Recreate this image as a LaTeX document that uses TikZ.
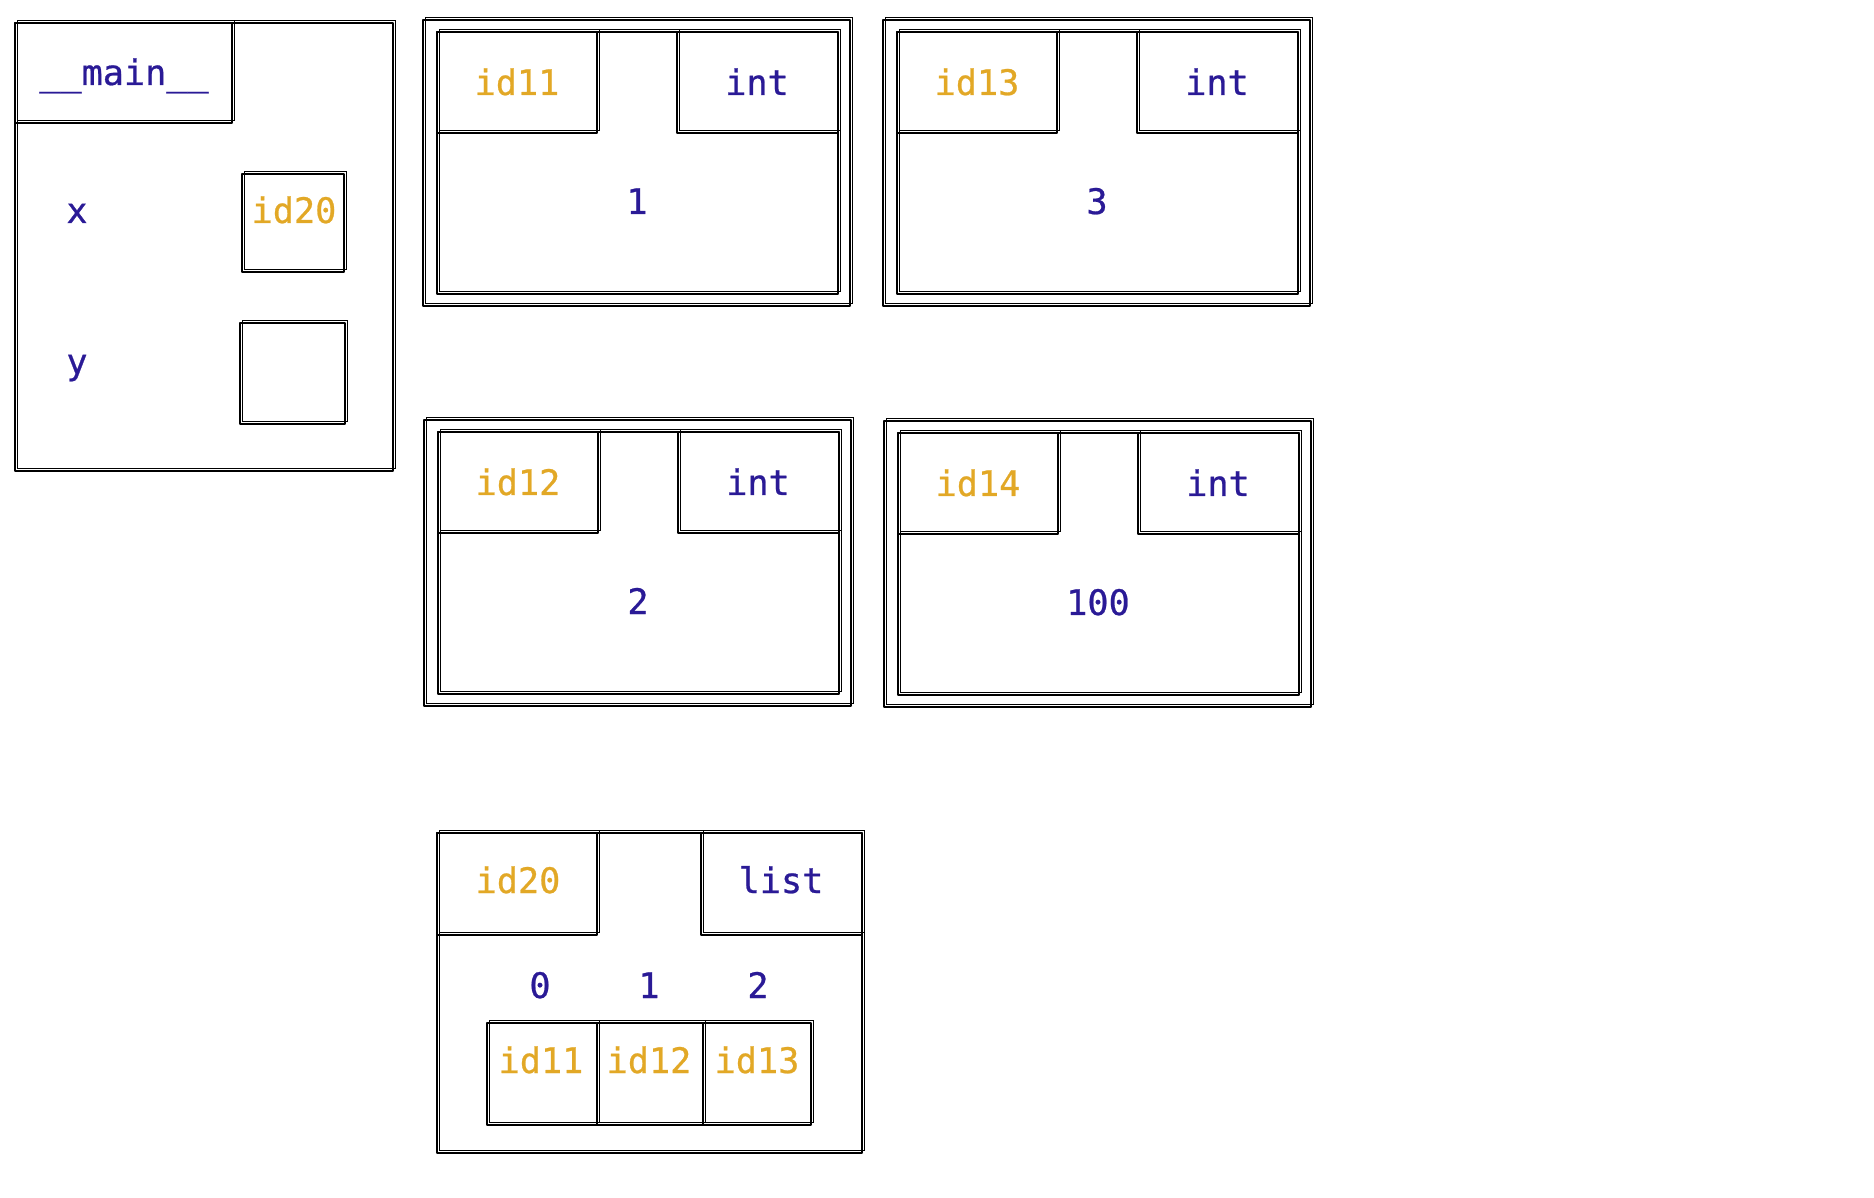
\documentclass[tikz,border=0pt]{standalone}
\usepackage{fontspec}
\newfontfamily\codefont{DejaVu Sans Mono}[FakeBold=0.7]
\usepackage{tikz}
\usepackage{xcolor}
\definecolor{idorange}{RGB}{226,168,38}
\definecolor{valblue}{RGB}{42,26,150}

\begin{document}
\begin{tikzpicture}[x=0.01cm,y=-0.01cm,
  font=\codefont\fontsize{10}{12}\selectfont,
  sk/.style={line width=0.7pt,line join=round,
    preaction={draw,line width=0.35pt,transform canvas={xshift=0.8pt,yshift=0.7pt}}},
  idtxt/.style={anchor=base,text=idorange},
  valtxt/.style={anchor=base,text=valblue}]
\useasboundingbox (0,0) rectangle (1874,1198);
% __main__ frame
\draw[sk] (15,23) rectangle (393,471);
\draw[sk] (15,23) rectangle (232,123);
\node[valtxt] (mainname) at (124,85) {\_\_main\_\_};
\node[valtxt] (xname) at (77,223) {x};
\draw[sk] (242,174) rectangle (344,272);
\node[idtxt] (xref) at (294,223) {id20};
\node[valtxt] (yname) at (77,374) {y};
\draw[sk] (240,323) rectangle (345,424);
% int object id11
\draw[sk] (423,20) rectangle (850,306);
\draw[sk] (437,32) rectangle (838,294);
\draw[sk] (437,32) rectangle (597,133);
\draw[sk] (677,32) rectangle (838,133);
\node[idtxt] (idA) at (517,95) {id11};
\node[valtxt] (typeA) at (757,95) {int};
\node[valtxt] (valA) at (637,214) {1};
% int object id13
\draw[sk] (883,20) rectangle (1310,306);
\draw[sk] (897,32) rectangle (1298,294);
\draw[sk] (897,32) rectangle (1057,133);
\draw[sk] (1137,32) rectangle (1298,133);
\node[idtxt] (idC) at (977,95) {id13};
\node[valtxt] (typeC) at (1217,95) {int};
\node[valtxt] (valC) at (1097,214) {3};
% int object id12
\draw[sk] (424,420) rectangle (851,706);
\draw[sk] (438,432) rectangle (839,694);
\draw[sk] (438,432) rectangle (598,533);
\draw[sk] (678,432) rectangle (839,533);
\node[idtxt] (idB) at (518,495) {id12};
\node[valtxt] (typeB) at (758,495) {int};
\node[valtxt] (valB) at (638,614) {2};
% int object id14
\draw[sk] (884,421) rectangle (1311,707);
\draw[sk] (898,433) rectangle (1299,695);
\draw[sk] (898,433) rectangle (1058,534);
\draw[sk] (1138,433) rectangle (1299,534);
\node[idtxt] (idD) at (978,496) {id14};
\node[valtxt] (typeD) at (1218,496) {int};
\node[valtxt] (valD) at (1098,615) {100};
% list object id20
\draw[sk] (437,833) rectangle (862,1153);
\draw[sk] (437,833) rectangle (597,935);
\draw[sk] (701,833) rectangle (862,935);
\node[idtxt] (idL) at (518,893) {id20};
\node[valtxt] (typeL) at (781,893) {list};
\node[valtxt] (ixA) at (540,998) {0};
\node[valtxt] (ixB) at (649,998) {1};
\node[valtxt] (ixC) at (758,998) {2};
\draw[sk] (487,1023) rectangle (597,1125);
\draw[sk] (597,1023) rectangle (703,1125);
\draw[sk] (703,1023) rectangle (811,1125);
\node[idtxt] (cellA) at (541,1073) {id11};
\node[idtxt] (cellB) at (649,1073) {id12};
\node[idtxt] (cellC) at (757,1073) {id13};
\end{tikzpicture}
\end{document}
